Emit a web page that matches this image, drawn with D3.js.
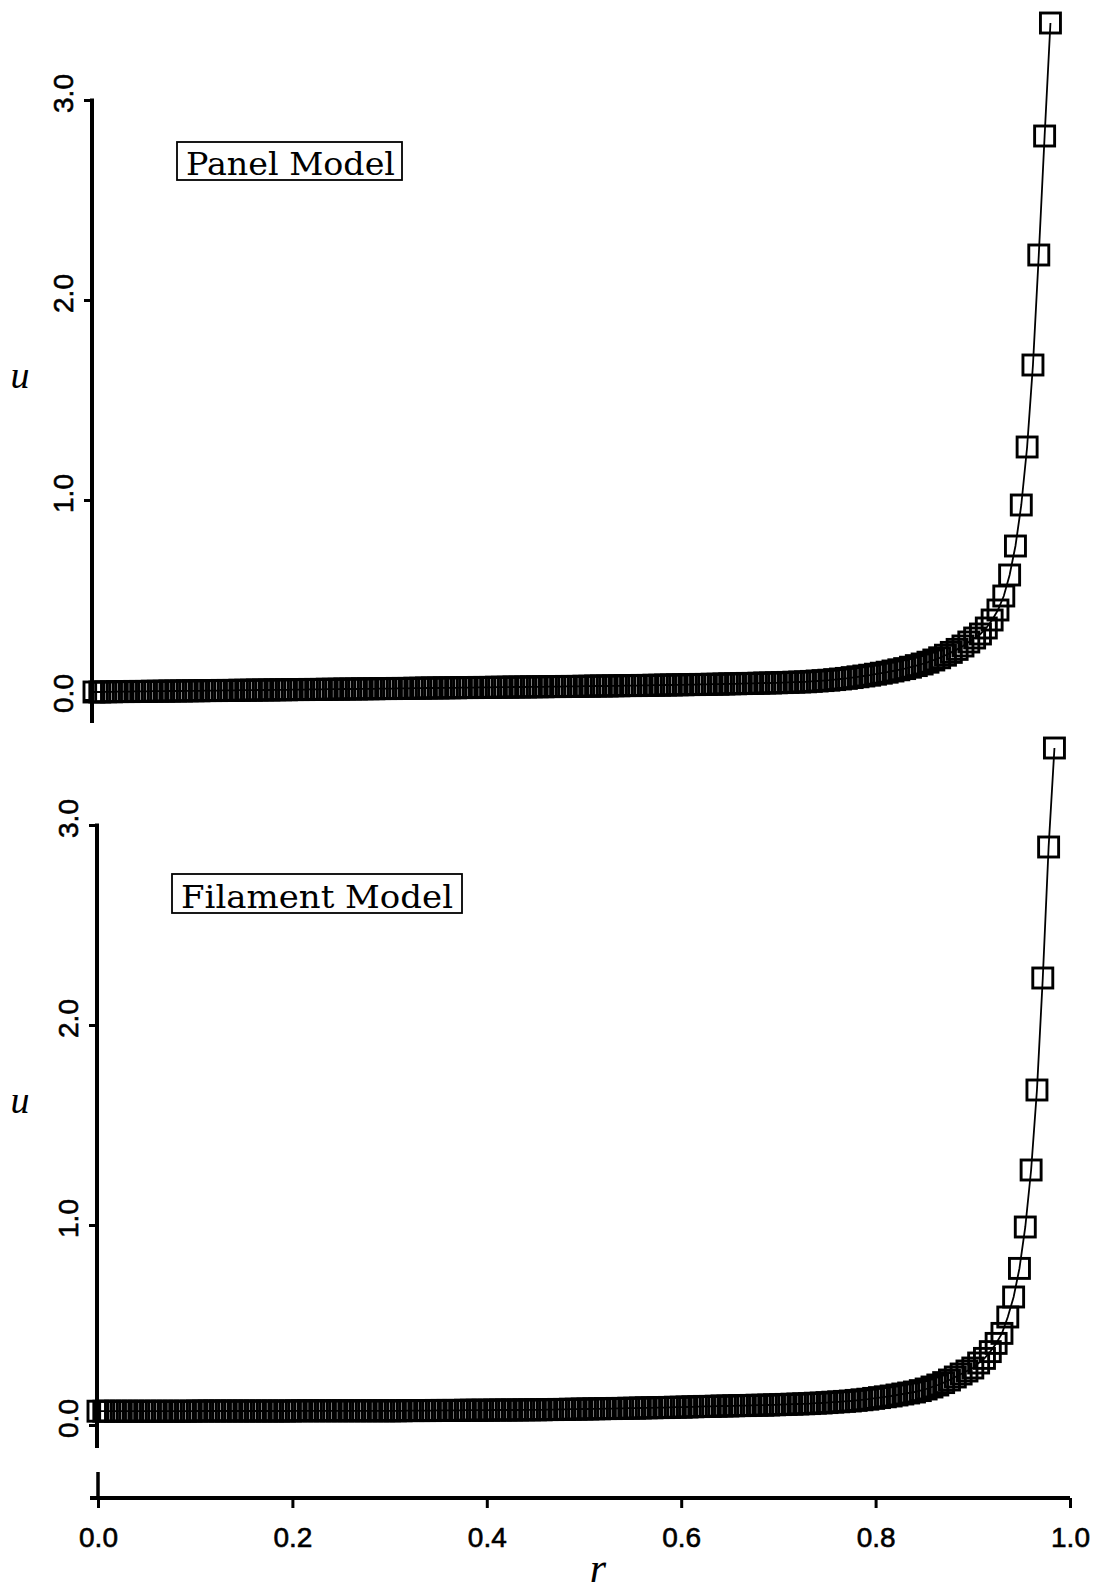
<!DOCTYPE html>
<html>
<head>
<meta charset="utf-8">
<script src="https://cdn.jsdelivr.net/npm/d3@7"></script>
<style>
  body { margin: 0; background: #fff; }
  svg { display: block; }
</style>
</head>
<body>
<svg id="chart" width="1108" height="1590"></svg>
<script>
// Radial stations r along the span
const radius = [
  0.000,0.006,0.012,0.018,0.024,0.030,0.036,0.042,0.048,0.054,
  0.060,0.066,0.072,0.078,0.084,0.090,0.096,0.102,0.108,0.114,
  0.120,0.126,0.132,0.138,0.144,0.150,0.156,0.162,0.168,0.174,
  0.180,0.186,0.192,0.198,0.204,0.210,0.216,0.222,0.228,0.234,
  0.240,0.246,0.252,0.258,0.264,0.270,0.276,0.282,0.288,0.294,
  0.300,0.306,0.312,0.318,0.324,0.330,0.336,0.342,0.348,0.354,
  0.360,0.366,0.372,0.378,0.384,0.390,0.396,0.402,0.408,0.414,
  0.420,0.426,0.432,0.438,0.444,0.450,0.456,0.462,0.468,0.474,
  0.480,0.486,0.492,0.498,0.504,0.510,0.516,0.522,0.528,0.534,
  0.540,0.546,0.552,0.558,0.564,0.570,0.576,0.582,0.588,0.594,
  0.600,0.606,0.612,0.618,0.624,0.630,0.636,0.642,0.648,0.654,
  0.660,0.666,0.672,0.678,0.684,0.690,0.696,0.702,0.708,0.714,
  0.720,0.726,0.732,0.738,0.744,0.750,0.756,0.762,0.768,0.774,
  0.780,0.786,0.792,0.798,0.804,0.810,0.816,0.822,0.828,0.834,
  0.840,0.846,0.852,0.858,0.864,0.870,0.876,0.882,0.888,0.894,
  0.900,0.906,0.912,0.918,0.924,0.930,0.936,0.942,0.948,0.954,
  0.960,0.966,0.972,0.978,0.984
];

// Induced velocity u, panel model
const uPanel = [
  0.040,0.040,0.041,0.041,0.042,0.042,0.042,0.043,0.043,0.043,
  0.044,0.044,0.044,0.045,0.045,0.045,0.046,0.046,0.046,0.047,
  0.047,0.047,0.048,0.048,0.048,0.049,0.049,0.049,0.050,0.050,
  0.050,0.051,0.051,0.051,0.052,0.052,0.052,0.053,0.053,0.053,
  0.054,0.054,0.054,0.055,0.055,0.055,0.056,0.056,0.056,0.057,
  0.057,0.057,0.058,0.058,0.058,0.059,0.059,0.060,0.060,0.060,
  0.061,0.061,0.061,0.062,0.062,0.062,0.063,0.063,0.063,0.064,
  0.064,0.064,0.065,0.065,0.065,0.066,0.066,0.066,0.067,0.067,
  0.067,0.068,0.068,0.068,0.069,0.069,0.070,0.070,0.070,0.071,
  0.071,0.072,0.072,0.072,0.073,0.073,0.074,0.074,0.075,0.075,
  0.076,0.076,0.077,0.077,0.078,0.078,0.079,0.079,0.080,0.081,
  0.081,0.082,0.083,0.083,0.084,0.085,0.085,0.086,0.087,0.088,
  0.089,0.090,0.091,0.093,0.095,0.097,0.099,0.102,0.105,0.108,
  0.112,0.116,0.120,0.124,0.129,0.134,0.139,0.145,0.151,0.157,
  0.164,0.172,0.180,0.189,0.200,0.211,0.224,0.238,0.253,0.270,
  0.290,0.310,0.330,0.360,0.400,0.450,0.520,0.625,0.770,0.975,
  1.265,1.675,2.225,2.820,3.385
];

// Induced velocity u, filament model
const uFilament = [
  0.069,0.069,0.069,0.069,0.069,0.069,0.069,0.069,0.069,0.069,
  0.069,0.069,0.069,0.069,0.069,0.069,0.069,0.070,0.070,0.070,
  0.070,0.070,0.070,0.070,0.070,0.070,0.070,0.070,0.070,0.070,
  0.070,0.070,0.070,0.070,0.071,0.071,0.071,0.071,0.071,0.071,
  0.071,0.071,0.071,0.071,0.071,0.071,0.071,0.071,0.071,0.071,
  0.071,0.071,0.071,0.072,0.072,0.072,0.072,0.072,0.073,0.073,
  0.073,0.073,0.073,0.074,0.074,0.074,0.074,0.074,0.075,0.075,
  0.075,0.075,0.075,0.076,0.076,0.076,0.076,0.077,0.077,0.078,
  0.078,0.079,0.079,0.080,0.080,0.081,0.081,0.082,0.082,0.083,
  0.083,0.084,0.084,0.085,0.086,0.086,0.087,0.087,0.088,0.089,
  0.089,0.090,0.091,0.092,0.093,0.093,0.094,0.095,0.095,0.096,
  0.097,0.097,0.098,0.099,0.099,0.100,0.101,0.102,0.103,0.104,
  0.105,0.106,0.107,0.109,0.110,0.112,0.114,0.116,0.118,0.120,
  0.123,0.126,0.129,0.133,0.137,0.141,0.145,0.150,0.155,0.160,
  0.165,0.172,0.180,0.190,0.200,0.212,0.225,0.240,0.255,0.270,
  0.285,0.310,0.333,0.367,0.408,0.458,0.540,0.640,0.783,0.990,
  1.275,1.675,2.235,2.890,3.385
];

const uTicks = [0, 1, 2, 3];
const rTicks = [0, 0.2, 0.4, 0.6, 0.8, 1.0];
const panelTitles = ["Panel Model", "Filament Model"];

const svg = d3.select("#chart");
const fmt = d3.format(".1f");
const sans = "'Liberation Sans', Arial, Helvetica, sans-serif";

const panels = [
  { title: panelTitles[0], values: uPanel,
    xRange: [94, 1066], yRange: [700, 100], axisX: 92,
    box: { x: 177, y: 142, w: 225, h: 38 }, textLen: 209, uLabelY: 388 },
  { title: panelTitles[1], values: uFilament,
    xRange: [98, 1070], yRange: [1425, 825], axisX: 97,
    box: { x: 172, y: 874, w: 290, h: 39 }, textLen: 272, uLabelY: 1113 }
];

panels.forEach(p => {
  const x = d3.scaleLinear().domain([0, 1]).range(p.xRange);
  const y = d3.scaleLinear().domain([0, 3]).range(p.yRange);
  const g = svg.append("g");

  // vertical u axis
  const ax = g.append("g")
    .attr("transform", `translate(${p.axisX},0)`)
    .call(d3.axisLeft(y).tickValues(uTicks).tickFormat(fmt).tickSize(8).tickSizeOuter(0));
  ax.select(".domain").remove();
  ax.selectAll(".tick line").attr("stroke", "#000").attr("stroke-width", 3);
  ax.selectAll(".tick text")
    .attr("x", null).attr("dy", null)
    .attr("transform", "translate(-29,-7) rotate(-90)")
    .attr("text-anchor", "middle")
    .attr("dominant-baseline", "central")
    .attr("font-family", sans)
    .attr("font-size", 28)
    .attr("fill", "#000")
    .attr("stroke", "#000").attr("stroke-width", 0.6);
  g.append("line")
    .attr("x1", p.axisX).attr("x2", p.axisX)
    .attr("y1", y(3) - 1.5).attr("y2", y(0) + 23)
    .attr("stroke", "#000").attr("stroke-width", 4);

  // axis name
  g.append("text")
    .attr("x", 20).attr("y", p.uLabelY)
    .attr("text-anchor", "middle")
    .attr("font-family", "'Liberation Serif', 'Times New Roman', serif")
    .attr("font-style", "italic")
    .attr("font-size", 38)
    .text("u");

  // curve through the stations
  const line = d3.line().x((d, i) => x(radius[i])).y(d => y(d));
  g.append("path")
    .datum(p.values)
    .attr("d", line)
    .attr("fill", "none")
    .attr("stroke", "#000")
    .attr("stroke-width", 1.8);

  // square markers
  const s = 20;
  g.append("g").selectAll("rect")
    .data(p.values)
    .join("rect")
    .attr("x", (d, i) => x(radius[i]) - s / 2)
    .attr("y", d => y(d) - s / 2)
    .attr("width", s).attr("height", s)
    .attr("fill", "none")
    .attr("stroke", "#000")
    .attr("stroke-width", 2.9);

  // title box
  g.append("rect")
    .attr("x", p.box.x).attr("y", p.box.y)
    .attr("width", p.box.w).attr("height", p.box.h)
    .attr("fill", "#fff")
    .attr("stroke", "#000").attr("stroke-width", 1.8);
  g.append("text")
    .attr("x", p.box.x + 9).attr("y", p.box.y + p.box.h - 5)
    .attr("font-family", "'DejaVu Serif', serif")
    .attr("font-size", 32)
    .attr("textLength", p.textLen)
    .attr("lengthAdjust", "spacingAndGlyphs")
    .text(p.title);
});

// shared r axis
const xr = d3.scaleLinear().domain([0, 1]).range([98, 1070]);
const axisY = 1498;
const xa = svg.append("g")
  .attr("transform", `translate(0,${axisY})`)
  .call(d3.axisBottom(xr).tickValues(rTicks).tickFormat(fmt).tickSize(10).tickPadding(19).tickSizeOuter(0));
xa.select(".domain").remove();
xa.selectAll(".tick line").attr("stroke", "#000").attr("stroke-width", 3);
xa.selectAll(".tick text")
  .attr("font-family", sans)
  .attr("font-size", 28)
  .attr("fill", "#000")
  .attr("stroke", "#000").attr("stroke-width", 0.6);
svg.append("line")
  .attr("x1", xr(0) - 8).attr("x2", xr(1))
  .attr("y1", axisY).attr("y2", axisY)
  .attr("stroke", "#000").attr("stroke-width", 4);
svg.append("line")
  .attr("x1", xr(0)).attr("x2", xr(0))
  .attr("y1", axisY - 26).attr("y2", axisY)
  .attr("stroke", "#000").attr("stroke-width", 3.5);

svg.append("text")
  .attr("x", 598).attr("y", 1582)
  .attr("text-anchor", "middle")
  .attr("font-family", "'Liberation Serif', 'Times New Roman', serif")
  .attr("font-style", "italic")
  .attr("font-size", 42)
  .text("r");
</script>
</body>
</html>
